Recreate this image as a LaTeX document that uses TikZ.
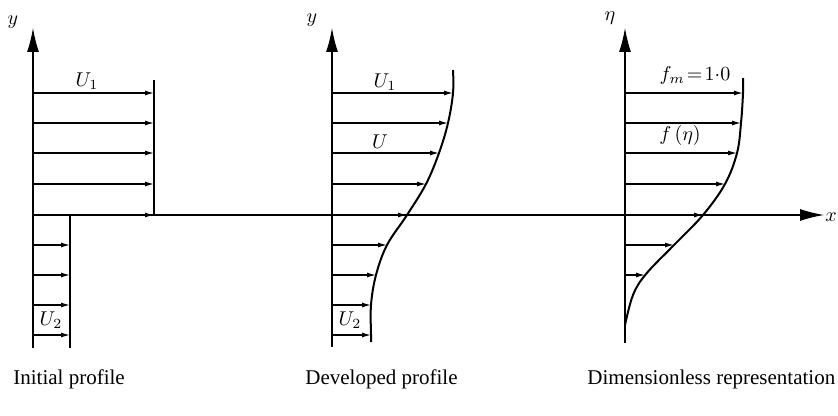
\documentclass[tikz,border=0pt]{standalone}
\usepackage{fontspec}
\setmainfont{Liberation Serif}
\usetikzlibrary{arrows.meta}

\begin{document}
\begin{tikzpicture}[x=0.5pt,y=-0.5pt,
        vel/.style={-{Latex[length=4.5pt,width=2.5pt]},semithick},
        axis/.style={-{Latex[length=12pt,width=6pt]},semithick},
        wall/.style={line width=1pt},
        lbl/.style={font=\normalsize,inner sep=0.5pt},
        caption/.style={font=\fontsize{10.5}{12}\selectfont,anchor=base west,inner sep=0pt}]
    \useasboundingbox (0,0) rectangle (838,416);
    % axes
    \coordinate (xstart) at (33,215);
    \coordinate (xend) at (824,215);
    \coordinate (ybot1) at (33,348);
    \coordinate (ytop1) at (33,28);
    \coordinate (ybot2) at (332,347);
    \coordinate (ytop2) at (332,28);
    \coordinate (ybot3) at (625,343);
    \coordinate (ytop3) at (625,28);
    \draw[axis] (xstart) -- (xend);
    \draw[axis] (ybot1) -- (ytop1);
    \draw[axis] (ybot2) -- (ytop2);
    \draw[axis] (ybot3) -- (ytop3);
    \node[lbl,inner sep=0pt] (xlab) at (831,217) {$x$};
    \node[lbl] (ylab1) at (13,22) {$y$};
    \node[lbl] (ylab2) at (312,20) {$y$};
    \node[lbl] (etalab) at (610,18) {$\eta$};

    % initial profile
    \coordinate (top1) at (154,80);
    \coordinate (mid1) at (154,215);
    \coordinate (low1) at (70,215);
    \coordinate (bot1) at (70,348);
    \draw[wall] (top1) -- (mid1);
    \draw[wall] (low1) -- (bot1);
    \foreach \yy in {93,123,153,184,215}
        \draw[vel] (33,\yy) -- (154,\yy);
    \foreach \yy in {245,275,305,335}
        \draw[vel] (33,\yy) -- (70,\yy);
    \node[lbl] (uone1) at (87,81) {$U_1$};
    \node[lbl] (utwo1) at (51,320) {$U_2$};

    % developed profile
    \draw[wall] plot[smooth,tension=0.6] coordinates {(453,70) (453,93) (448,123) (439,153)
        (426,184) (407,215) (387,245) (376,275) (371,305) (371,335) (371,342)};
    \foreach \yy/\xx in {93/453,123/448,153/439,184/426,215/407,245/387,275/376,305/371,335/371}
        \draw[vel] (332,\yy) -- (\xx,\yy);
    \node[lbl] (uone2) at (385,82) {$U_1$};
    \node[lbl] (umid2) at (380,142) {$U$};
    \node[lbl] (utwo2) at (350,320) {$U_2$};

    % dimensionless representation
    \draw[wall] plot[smooth,tension=0.6] coordinates {(743,78) (743,93) (741,123) (737,153)
        (725,184) (703,215) (674,245) (646,274) (633,295) (625,325)};
    \foreach \yy/\xx in {93/743,123/741,153/737,184/725,215/703,245/674,275/645}
        \draw[vel] (625,\yy) -- (\xx,\yy);
    \node[lbl] (fm) at (695,76) {$f_m\!=\!1{\cdot}0$};
    \node[lbl] (feta) at (680,136) {$f\,(\eta)$};

    % captions
    \node[caption] (cap1) at (13,384) {Initial profile};
    \node[caption] (cap2) at (305,384) {Developed profile};
    \node[caption] (cap3) at (587,384) {Dimensionless representation};
\end{tikzpicture}
\end{document}
